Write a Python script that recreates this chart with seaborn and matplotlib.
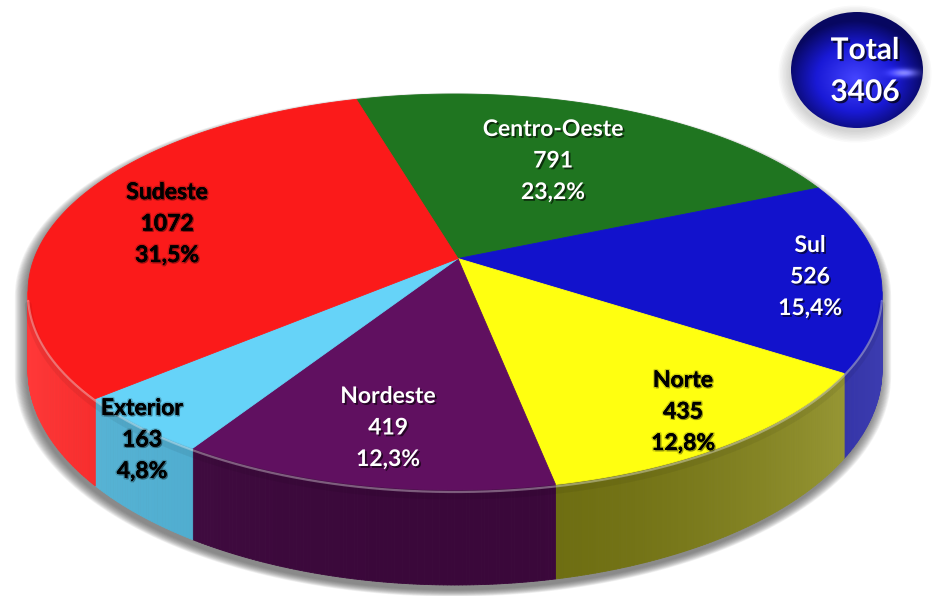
import numpy as np
import matplotlib
matplotlib.use("Agg")
import matplotlib.pyplot as plt
import seaborn as sns
from matplotlib.patches import Polygon, Ellipse
from matplotlib.collections import PolyCollection
import matplotlib.patheffects as pe
from matplotlib.colors import to_rgb

# ---------------- data ----------------
regions = ["Centro-Oeste", "Sul", "Norte", "Nordeste", "Exterior", "Sudeste"]
counts = [791, 526, 435, 419, 163, 1072]
total_title = "Total"

# ---------------- style ----------------
top_colors = ["#1f7520", "#1212cc", "#ffff10", "#601060", "#66d3f8", "#fb1a1a"]
side_dark = ["#145014", "#16168c", "#6c6c10", "#3a083a", "#4aa8cc", "#e81616"]
side_light = ["#2a8a2a", "#3c3cb0", "#a0a03c", "#4a114a", "#5cb8d8", "#ff3838"]
text_colors = ["white", "white", "black", "white", "black", "black"]
label_xy = [(553, 161), (810, 277), (683, 412), (388, 428), (142, 440), (167, 224)]

sns.set_theme(style="white")
plt.rcParams["font.family"] = ["Lato", "DejaVu Sans"]

W, H = 933, 596
fig = plt.figure(figsize=(W / 100, H / 100), dpi=100)
ax = fig.add_axes([0, 0, 1, 1])
ax.set_xlim(0, W)
ax.set_ylim(H, 0)
ax.axis("off")

# pie geometry (layout, pixels)
CX, CY, A, B = 455.0, 292.0, 427.0, 198.0
V = np.array([0.007, 0.169])          # apex position in unit-circle space
START = 106.5                          # degrees, clockwise


def to_px(u, v):
    return CX + A * np.asarray(u), CY - B * np.asarray(v)


def depth(sv):
    return 78 + 17 * np.clip(-np.asarray(sv), 0, None)


def rim_param(theta_deg):
    d = np.array([np.cos(np.radians(theta_deg)), np.sin(np.radians(theta_deg))])
    vd = V @ d
    t = -vd + np.sqrt(vd ** 2 - V @ V + 1)
    p = V + t * d
    return np.degrees(np.arctan2(p[1], p[0]))


vals = np.array(counts, dtype=float)
total = vals.sum()
fracs = vals / total
bounds = START - 360 * np.concatenate([[0], np.cumsum(fracs)])

# ---------------- shadow ----------------
phi_top = np.radians(np.linspace(0, 180, 120))
phi_bot = np.radians(np.linspace(180, 360, 120))
sx = np.concatenate([np.cos(phi_top), np.cos(phi_bot)])
sil_x, sil_y = to_px(sx, np.concatenate([np.sin(phi_top), np.sin(phi_bot)]))
sil_y = sil_y + np.concatenate([np.zeros_like(phi_top), depth(np.sin(phi_bot))])
for k in range(14):
    grow = 1 + 0.0020 * k
    xs = CX + (sil_x - CX) * grow - 2
    ys = (CY + 40) + (sil_y - (CY + 40)) * grow + 5
    ax.add_patch(Polygon(np.column_stack([xs, ys]), closed=True,
                         facecolor="#505050", edgecolor="none", alpha=0.07, zorder=1))

# ---------------- side walls ----------------
for i in range(len(vals)):
    p1 = rim_param(bounds[i])
    p2 = rim_param(bounds[i + 1])
    while p2 > p1:
        p2 -= 360
    phis = np.linspace(p1, p2, max(int(abs(p1 - p2) * 2), 4))
    quads, cols = [], []
    dk, lt = np.array(to_rgb(side_dark[i])), np.array(to_rgb(side_light[i]))
    for a0, a1 in zip(phis[:-1], phis[1:]):
        am = np.radians((a0 + a1) / 2)
        if np.sin(am) >= 0:
            continue
        pts = []
        for a in (a0, a1):
            ar = np.radians(a)
            x, y = to_px(np.cos(ar), np.sin(ar))
            pts.append((x, y))
        x0, y0 = pts[0]
        x1, y1 = pts[1]
        d0 = depth(np.sin(np.radians(a0)))
        d1 = depth(np.sin(np.radians(a1)))
        quads.append([(x0, y0), (x1, y1), (x1, y1 + d1), (x0, y0 + d0)])
        w = abs(np.cos(am)) ** 2.2
        cols.append(dk + (lt - dk) * w)
    if quads:
        ax.add_collection(PolyCollection(quads, facecolors=cols, edgecolors=cols,
                                         linewidths=0.6, zorder=2))

# ---------------- top faces ----------------
for i in range(len(vals)):
    p1 = rim_param(bounds[i])
    p2 = rim_param(bounds[i + 1])
    while p2 > p1:
        p2 -= 360
    arc = np.radians(np.linspace(p1, p2, 200))
    ax_, ay_ = to_px(np.cos(arc), np.sin(arc))
    vx, vy = to_px(V[0], V[1])
    poly = np.column_stack([np.concatenate([[vx], ax_]), np.concatenate([[vy], ay_])])
    ax.add_patch(Polygon(poly, closed=True, facecolor=top_colors[i],
                         edgecolor=top_colors[i], linewidth=0.6, zorder=3))

# rim highlight along the front edge
fr = np.radians(np.linspace(182, 358, 300))
rx, ry = to_px(np.cos(fr), np.sin(fr))
ax.plot(rx, ry + 2, color="white", alpha=0.35, lw=1.6, zorder=4, solid_capstyle="round")
ax.plot(rx, ry + 6, color="black", alpha=0.06, lw=5, zorder=4)

# ---------------- labels ----------------
for i, name in enumerate(regions):
    x, y = label_xy[i]
    pct = f"{100 * vals[i] / total:.1f}%".replace(".", ",")
    tc = text_colors[i]
    if tc == "white":
        effects = [pe.SimplePatchShadow(offset=(1.3, -1.3), shadow_rgbFace="black", alpha=0.6),
                   pe.Normal()]
    else:
        effects = [pe.withStroke(linewidth=2.2, foreground=(0, 0, 0, 0.18)),
                   pe.SimplePatchShadow(offset=(1.0, -1.0), shadow_rgbFace="black", alpha=0.3),
                   pe.Normal()]
    for j, line in enumerate([name, f"{int(vals[i])}", pct]):
        ax.text(x, y + (j - 1) * 31.5, line, ha="center", va="center", fontsize=16.5,
                fontweight="bold", color=tc, zorder=6, path_effects=effects)

# ---------------- total bubble ----------------
bx, by, bw, bh = 857.0, 70.0, 132.0, 116.0
for k in range(8):
    ax.add_patch(Ellipse((bx - 2, by + 4), bw + 3 * k, bh + 3 * k, facecolor="#707070",
                         edgecolor="none", alpha=0.04, zorder=6))
nx, ny = 200, 180
gx, gy = np.meshgrid(np.linspace(-1, 1, nx), np.linspace(-1, 1, ny))
r = np.sqrt((gx + 0.02) ** 2 + ((gy - 0.15) * 1.05) ** 2)
c_in = np.array([0.27, 0.27, 1.0])
c_mid = np.array([0.10, 0.10, 0.84])
c_out = np.array([0.03, 0.03, 0.38])
t1 = np.clip(r / 0.6, 0, 1)[..., None]
t2 = np.clip((r - 0.6) / 0.45, 0, 1)[..., None]
img = c_in + (c_mid - c_in) * t1
img = img + (c_out - c_mid) * t2
# soft gloss at right
gloss = np.exp(-(((gx - 0.72) / 0.2) ** 2 + ((gy - 0.05) / 0.07) ** 2))[..., None]
img = np.clip(img + gloss * 0.45, 0, 1)
clip = Ellipse((bx, by), bw, bh, transform=ax.transData, facecolor="none", edgecolor="none")
ax.add_patch(clip)
im = ax.imshow(img, extent=(bx - bw / 2, bx + bw / 2, by + bh / 2, by - bh / 2),
               origin="upper", zorder=7, interpolation="bilinear", aspect="auto")
im.set_clip_path(clip)
ax.set_xlim(0, W)
ax.set_ylim(H, 0)

beff = [pe.SimplePatchShadow(offset=(1.5, -1.5), shadow_rgbFace="black", alpha=0.7), pe.Normal()]
ax.text(865, 50, total_title, ha="center", va="center", fontsize=21.5, fontweight="bold",
        color="white", zorder=8, path_effects=beff)
ax.text(865, 92, f"{int(total)}", ha="center", va="center", fontsize=21.5, fontweight="bold",
        color="white", zorder=8, path_effects=beff)

fig.savefig("out.png", dpi=100)
